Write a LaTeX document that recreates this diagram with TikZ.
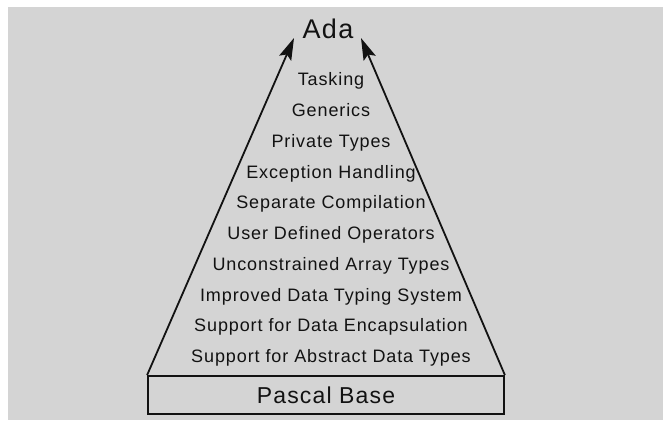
\documentclass[tikz,border=0pt]{standalone}
\usepackage{fontspec}
\setmainfont{Liberation Sans}[LetterSpace=5.0]
\usepackage{tikz}
\usetikzlibrary{arrows.meta,positioning}
\definecolor{paperGray}{RGB}{212,212,212}
\definecolor{inkBlack}{RGB}{18,18,18}
\tikzset{
  basebox/.style={draw=inkBlack,line width=1.8pt,minimum width=356pt,minimum height=38pt,
                  font=\fontsize{23}{25}\selectfont,text=inkBlack,inner sep=0pt},
  feat/.style={font=\fontsize{18}{20}\selectfont,text=inkBlack,anchor=base},
  top/.style={font=\fontsize{27}{30}\selectfont,text=inkBlack},
  arr/.style={-{Stealth[length=22pt,width=13pt,inset=4pt]},line width=1.8pt,draw=inkBlack},
}

\begin{document}
\begin{tikzpicture}[x=1pt,y=1pt]
  \useasboundingbox (0,0) rectangle (663,420);
  \fill[white] (0,0) rectangle (663,420);
  \fill[paperGray] (8,0) rectangle (663,413);

  \node[basebox]         (base) at (326,25)  {Pascal Base};
  \node[top]             (ada)  at (328,391) {Ada};
  \coordinate (tipL) at (294,382);
  \coordinate (tipR) at (361,382);

  % feature list, from top to bottom
  \foreach \txt [count=\i] in {Tasking,Generics,Private Types,Exception Handling,
      Separate Compilation,User Defined Operators,Unconstrained Array Types,
      Improved Data Typing System,Support for Data Encapsulation,
      Support for Abstract Data Types}
    \node[feat] (feat\i) at (331,{334.3-30.78*(\i-1)}) {\txt};

  \draw[arr] (base.north west) -- (tipL);
  \draw[arr] (base.north east) -- (tipR);
\end{tikzpicture}
\end{document}
